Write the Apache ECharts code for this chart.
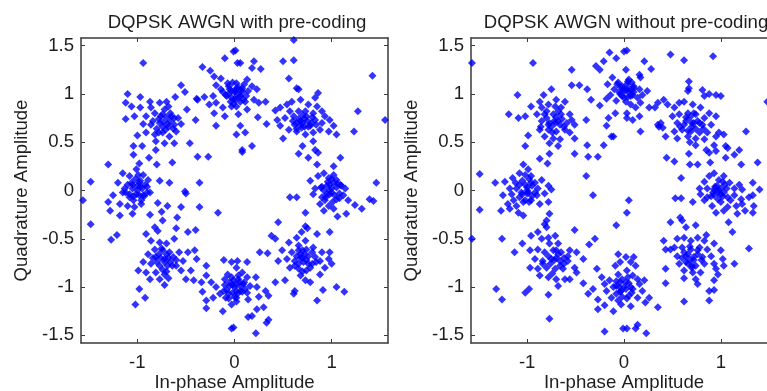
<!DOCTYPE html>
<html>
<head>
<meta charset="utf-8">
<script src="https://cdn.jsdelivr.net/npm/echarts@6/dist/echarts.min.js"></script>
<style>
html,body{margin:0;padding:0;background:#fff;}
#chart{width:767px;height:391px;}
</style>
</head>
<body>
<div id="chart"></div>
<script>
// ---- Data ----
var titles = ['DQPSK AWGN with pre-coding', 'DQPSK AWGN without pre-coding'];
var xName = 'In-phase Amplitude';
var yName = 'Quadrature Amplitude';
var xTicks = [-1, 0, 1];
var yTicks = [-1.5, -1, -0.5, 0, 0.5, 1, 1.5];
var axisMin = -1.58, axisMax = 1.58;

// With pre-coding: upper-left region
var withTL = [[-0.94,1.32],[-0.33,1.28],[-0.10,1.37],[-0.01,1.44],[-0.25,1.24],
[-1.10,1.00],[-0.97,0.97],[-1.12,0.91],[-1.06,0.87],[-1.12,0.74],[-1.03,0.77],[-0.97,0.86],[-0.87,0.92],[-0.86,0.86],[-0.77,0.91],[-0.70,0.92],[-0.68,0.87],[-0.61,0.97],[-0.55,1.09],[-0.51,1.02],[-0.49,0.84],
[-0.91,0.77],[-0.82,0.80],[-0.74,0.79],[-0.65,0.77],[-0.58,0.75],[-0.55,0.69],
[-0.94,0.69],[-0.86,0.68],[-0.77,0.70],[-0.69,0.69],[-0.62,0.68],
[-1.00,0.57],[-0.91,0.60],[-0.82,0.58],[-0.74,0.60],[-0.67,0.56],[-0.60,0.61],
[-0.81,0.51],[-0.72,0.49],[-0.62,0.49],[-0.81,0.42],[-1.04,0.46],[-0.95,0.46],
[-0.39,0.95],[-0.40,0.73],[-0.46,0.49],
[-1.04,0.37],[-0.98,0.28],[-0.88,0.34],[-0.80,0.27],[-0.64,0.29],[-0.38,0.35],[-0.27,0.35],[-1.30,0.27],[-1.48,0.09],
[-0.78,0.74],[-0.70,0.76],[-0.66,0.72],[-0.74,0.66],[-0.80,0.64],[-0.71,0.63],[-0.63,0.64],
[-0.21,1.18],[-0.14,1.16],[-0.07,1.11],[-0.19,1.09],[-0.14,1.05],[-0.09,0.99],[-0.03,1.03],[-0.22,0.98],[-0.31,0.97],[-0.38,0.94],[-0.26,0.89],[-0.19,0.91],[-0.21,0.80],[-0.12,0.86],[-0.10,0.77],[-0.19,0.67],[-0.03,0.87],
[-0.05,1.05],[-0.02,1.12],[-0.08,0.98],[-0.04,0.92],[-0.12,1.02],[-0.06,1.00],
[-1.15,0.18],[-1.08,0.15],[-1.01,0.22],[-0.94,0.16],[-0.98,0.08],[-0.89,0.11],[-1.05,0.06],[-1.20,0.08],[-1.13,0.02],[-0.77,0.10],[-0.67,0.08],[-0.51,-0.01],[-0.36,0.08],
[-1.00,0.05],[-0.95,0.02],[-1.05,0.02],[-0.92,0.06],[-1.02,0.12],[-1.10,0.06],[-0.97,0.10]];

// With pre-coding: upper-right region
var withTR = [[0.61,1.56],[0.01,1.45],[0.50,1.34],[0.61,1.35],[0.20,1.34],[0.18,1.27],[0.27,1.26],[0.03,1.32],[0.06,1.32],[0.56,1.16],[1.42,1.19],[0.64,1.06],[0.66,1.05],[0.86,1.01],[0.83,0.96],
[0.02,1.11],[0.08,1.06],[0.13,1.15],[0.01,1.03],[0.06,0.98],[0.11,0.92],[0.02,0.87],[0.14,1.03],[0.18,1.08],[0.23,1.05],[0.20,0.94],[0.25,0.91],[0.13,0.84],[0.04,0.79],[0.01,0.94],
[0.03,1.00],[0.08,1.02],[0.00,0.95],[0.06,0.92],[0.12,0.98],[0.10,1.10],[0.04,1.07],
[0.32,0.92],[0.24,0.76],[0.33,0.69],[0.06,0.67],[0.11,0.60],[0.02,0.58],[0.18,0.46],[0.08,0.42],[0.08,0.40],
[0.42,0.83],[0.47,0.86],[0.54,0.89],[0.59,0.92],[0.68,0.94],[0.76,0.89],[0.85,0.87],[0.90,0.82],[0.93,0.77],[0.98,0.73],[1.02,0.67],[1.05,0.58],[0.97,0.61],[0.88,0.63],[0.81,0.60],[0.73,0.58],[0.64,0.61],[0.56,0.63],[0.50,0.54],[0.47,0.67],[0.44,0.73],[0.52,0.75],[0.61,0.77],[0.68,0.72],[0.74,0.77],[0.83,0.73],[0.90,0.70],[0.78,0.67],[0.69,0.65],[0.62,0.68],[0.57,0.82],[0.66,0.82],[0.73,0.82],[0.81,0.80],
[0.70,0.70],[0.66,0.74],[0.75,0.72],[0.72,0.66],[0.64,0.70],[0.79,0.70],
[0.70,0.46],[0.66,0.38],[0.76,0.34],[0.83,0.42],[0.86,0.39],[0.81,0.51],[1.27,0.82],[1.23,0.61],[1.55,0.73],[1.09,0.34],[1.02,0.25],[0.85,0.27],[1.46,0.08],
[0.78,0.10],[0.86,0.15],[0.92,0.18],[0.97,0.13],[1.02,0.16],[1.05,0.11],[1.09,0.06],[0.98,0.06],[0.90,0.04],[0.83,0.02],[1.14,0.02],
[1.00,0.02],[0.95,0.05],[1.05,0.03],[0.92,0.00],[1.02,0.08],[1.10,0.05]];

// With pre-coding: lower-left region
var withBL = [[-1.25,-0.05],[-1.15,-0.02],[-1.08,-0.07],[-1.01,-0.04],[-0.94,-0.05],[-0.87,-0.02],[-1.30,-0.12],[-1.18,-0.14],[-1.10,-0.16],[-1.03,-0.17],[-0.96,-0.14],[-1.28,-0.21],[-1.18,-0.26],[-1.05,-0.24],[-1.56,-0.10],
[-0.98,-0.05],[-1.08,-0.04],[-0.90,-0.02],[-0.96,-0.10],[-1.04,-0.10],
[-0.79,-0.13],[-0.69,-0.16],[-0.55,-0.17],[-0.50,-0.03],[-0.36,-0.17],[-0.17,-0.23],
[-0.87,-0.25],[-0.75,-0.22],[-0.74,-0.31],[-1.48,-0.35],[-1.27,-0.51],[-1.21,-0.46],
[-0.59,-0.28],[-0.60,-0.39],[-0.48,-0.43],[-0.40,-0.41],[-0.62,-0.50],
[-0.91,-0.45],[-0.82,-0.38],[-0.79,-0.42],[-0.86,-0.52],[-0.77,-0.54],[-0.70,-0.55],[-0.82,-0.61],[-0.74,-0.62],[-0.67,-0.64],[-0.89,-0.66],[-0.81,-0.69],[-0.72,-0.71],[-0.63,-0.69],[-0.57,-0.64],[-0.48,-0.64],[-0.41,-0.62],[-0.39,-0.71],[-0.53,-0.73],[-0.94,-0.74],[-0.86,-0.76],[-0.77,-0.78],[-0.69,-0.78],[-0.60,-0.78],[-0.99,-0.83],[-0.91,-0.85],[-0.81,-0.85],[-0.72,-0.87],[-0.87,-0.92],[-0.77,-0.92],[-0.68,-0.91],[-0.72,-0.98],[-0.55,-0.83],[-0.45,-0.83],[-0.50,-0.92],
[-0.76,-0.70],[-0.70,-0.66],[-0.66,-0.74],[-0.80,-0.74],[-0.74,-0.82],
[-0.98,-1.02],[-0.92,-1.11],[-1.02,-1.18],[-0.42,-0.93],[-0.34,-0.95],[-0.29,-0.78],[-0.29,-0.88],[-0.11,-0.72],[-0.03,-0.74],[-0.33,-1.05],[-0.29,-1.14],[-0.29,-1.22],
[-0.24,-0.95],[-0.19,-1.00],[-0.15,-1.07],[-0.10,-0.92],[-0.07,-0.87],[-0.05,-0.99],[-0.09,-1.11],[-0.03,-1.18],[-0.22,-1.11],[-0.12,-1.25],[-0.03,-1.43],
[-0.05,-0.95],[-0.08,-1.03],[-0.03,-0.90],[-0.10,-0.98],[-0.02,-1.06],[-0.06,-1.12]];

// With pre-coding: lower-right region
var withBR = [[0.57,-0.07],[0.64,-0.07],[0.81,-0.04],[0.90,-0.07],[0.98,-0.04],[1.05,-0.09],[1.12,-0.05],[1.17,-0.10],[0.88,-0.14],[0.97,-0.16],[0.92,-0.21],[1.02,-0.19],[1.24,-0.15],[1.31,-0.19],[1.39,-0.09],[1.43,-0.11],[0.73,-0.23],[1.06,-0.27],[1.15,-0.24],
[1.00,-0.02],[0.95,-0.04],[1.08,-0.03],[0.93,-0.10],[1.01,-0.12],
[0.45,-0.33],[0.73,-0.37],[0.75,-0.39],[0.85,-0.45],[0.98,-0.43],[0.38,-0.47],[0.42,-0.50],[0.26,-0.64],[0.34,-0.65],[0.49,-0.62],[0.03,-0.73],[0.13,-0.74],
[0.56,-0.54],[0.64,-0.49],[0.69,-0.43],[0.73,-0.52],[0.66,-0.57],[0.74,-0.61],[0.81,-0.59],[0.59,-0.64],[0.68,-0.66],[0.76,-0.68],[0.83,-0.69],[0.54,-0.71],[0.62,-0.73],[0.71,-0.74],[0.80,-0.76],[0.57,-0.80],[0.66,-0.81],[0.74,-0.83],[0.68,-0.88],[0.73,-0.93],[0.78,-0.95],[0.90,-0.64],[0.88,-0.73],[0.97,-0.71],[1.00,-0.76],[0.93,-0.80],[0.88,-0.87],[0.98,-0.64],[0.45,-0.73],
[0.70,-0.70],[0.66,-0.76],[0.74,-0.72],[0.64,-0.68],[0.70,-0.62],[0.78,-0.80],
[0.52,-0.93],[0.42,-0.95],[0.62,-1.04],[0.61,-1.07],[0.91,-1.03],[1.05,-1.00],[1.13,-1.05],[0.85,-1.14],
[0.02,-0.80],[0.08,-0.85],[0.13,-0.90],[0.04,-0.92],[0.01,-0.97],[0.09,-0.97],[0.16,-0.99],[0.06,-1.04],[0.13,-1.06],[0.02,-1.11],[0.14,-1.13],[0.22,-0.90],[0.23,-1.00],[0.25,-1.10],[0.32,-1.04],[0.35,-1.09],[0.30,-1.21],[0.23,-1.23],[0.14,-1.31],[0.18,-1.30],[0.35,-1.34],[0.33,-1.37],[0.22,-1.48],[-0.01,-1.42],
[0.00,-1.00],[0.05,-0.95],[0.08,-1.05],[0.00,-1.10],[0.04,-0.88],[0.10,-0.95],[0.02,-1.04]];

// With pre-coding: dense cluster cores
var withCore = [[0.00,1.02],[-0.03,0.96],[0.05,0.97],[0.02,1.06],[-0.06,1.08],[0.07,1.04],[-0.01,0.90],[0.09,0.94],
[0.72,0.74],[0.68,0.68],[0.76,0.66],[0.60,0.72],[0.84,0.68],[0.70,0.78],[0.64,0.64],[0.80,0.76],
[0.98,0.00],[1.03,-0.05],[0.96,0.09],[1.06,0.07],[0.94,-0.07],[1.08,-0.08],[1.00,0.12],[0.89,0.03],
[0.68,-0.70],[0.72,-0.66],[0.76,-0.76],[0.62,-0.78],[0.70,-0.84],[0.80,-0.64],[0.66,-0.62],[0.84,-0.74],
[-0.02,-0.98],[0.03,-1.07],[-0.06,-1.07],[0.06,-0.99],[-0.01,-0.93],[0.11,-1.02],[-0.11,-1.04],[0.02,-1.15],
[-0.72,-0.74],[-0.68,-0.70],[-0.78,-0.66],[-0.64,-0.78],[-0.84,-0.70],[-0.75,-0.60],[-0.70,-0.84],[-0.60,-0.72],
[-1.00,0.00],[-0.97,0.04],[-1.04,-0.06],[-0.93,-0.06],[-1.06,0.08],[-0.99,0.16],[-1.12,-0.02],[-0.90,0.04],
[-0.73,0.71],[-0.76,0.77],[-0.68,0.66],[-0.84,0.72],[-0.62,0.75],[-0.72,0.84],[-0.78,0.60],[-0.66,0.80]];

// Without pre-coding: upper-left region
var withoutTL = [[-1.57,1.32],[-0.94,1.32],[-0.54,1.25],[-0.15,1.43],[-0.08,1.37],[0.00,1.44],[-0.21,1.34],[-0.29,1.29],[-0.25,1.25],[-0.54,1.09],[-0.46,1.09],[-0.38,1.05],[-1.10,0.99],[-0.75,1.05],[-0.83,0.99],[-0.87,0.92],[-0.70,0.94],[-0.61,0.92],[-0.96,0.87],[-1.19,0.79],[-1.09,0.75],[-1.02,0.77],[-0.34,0.94],[-0.25,0.88],[-0.18,0.95],[-0.09,0.80],[-0.16,0.75],[-0.18,0.67],[-0.39,0.73],
[-0.85,0.86],[-0.78,0.89],[-0.71,0.87],[-0.65,0.86],[-0.90,0.79],[-0.82,0.79],[-0.73,0.79],[-0.65,0.79],[-0.56,0.79],[-0.54,0.73],[-0.85,0.72],[-0.77,0.70],[-0.68,0.72],[-0.59,0.70],[-0.51,0.68],[-0.87,0.63],[-0.78,0.63],[-0.70,0.61],[-0.61,0.63],[-0.56,0.60],[-0.99,0.57],[-0.82,0.56],[-0.73,0.54],[-0.66,0.53],[-0.77,0.49],[-0.68,0.46],[-0.51,0.54],[-1.02,0.46],
[-0.72,0.72],[-0.75,0.66],[-0.66,0.68],[-0.80,0.75],[-0.70,0.76],
[-0.77,0.38],[-0.87,0.33],[-0.79,0.28],[-0.51,0.38],[-0.38,0.47],[-0.37,0.35],[-0.27,0.35],[-0.21,0.47],[-0.13,0.56],[-0.11,0.56],[-1.49,0.17],[-0.39,0.15],[-1.33,0.08],
[-1.23,0.09],[-1.15,0.13],[-1.08,0.18],[-1.04,0.27],[-0.99,0.22],[-0.96,0.15],[-0.92,0.08],[-1.02,0.06],[-1.11,0.02],[-0.89,0.02],[-1.18,0.02],[-0.85,0.11],[-0.78,0.05],[-0.75,0.01],
[-1.00,0.03],[-0.95,0.05],[-1.05,0.10],[-0.98,0.12],[-1.08,0.06],
[-0.12,1.17],[-0.06,1.12],[-0.10,1.05],[-0.04,1.00],[-0.14,0.99],[-0.08,0.93],[-0.03,1.07],[-0.17,1.10],
[0.00,1.05],[0.03,1.10],[-0.02,0.98],[0.05,1.02]];

// Without pre-coding: upper-right region
var withoutTR = [[0.03,1.45],[0.48,1.41],[0.62,1.35],[0.92,1.39],[0.21,1.34],[0.28,1.26],[0.16,1.20],[0.17,1.17],
[0.02,1.25],[0.05,1.15],[0.10,1.08],[0.03,1.05],[0.09,0.99],[0.14,0.96],[0.02,0.92],[0.07,0.89],[0.12,0.86],[0.03,0.80],[0.16,1.05],[0.19,0.99],[0.24,1.03],[0.17,0.91],[0.26,0.86],[0.16,0.77],[0.09,0.73],[0.03,0.75],
[0.06,1.05],[0.10,1.02],[0.04,0.97],[0.08,1.12],
[0.17,0.61],[0.67,1.13],[0.67,1.06],[0.66,1.03],[0.81,1.04],[0.83,0.98],[0.88,1.00],[0.95,0.99],[1.00,0.98],[0.41,0.94],[0.45,0.89],[0.35,0.91],[0.32,0.86],[0.35,0.68],[0.40,0.65],[0.43,0.56],[0.44,0.34],[0.52,0.30],[0.59,0.13],[0.68,0.50],[0.67,0.38],[0.76,0.27],[0.68,0.27],
[0.52,0.86],[0.57,0.91],[0.62,0.92],[0.71,0.89],[0.79,0.86],[0.88,0.80],[0.95,0.77],[0.50,0.77],[0.57,0.79],[0.66,0.80],[0.74,0.79],[0.83,0.75],[0.55,0.70],[0.64,0.72],[0.72,0.70],[0.81,0.68],[0.90,0.68],[0.52,0.61],[0.60,0.63],[0.69,0.61],[0.78,0.60],[0.86,0.60],[0.55,0.54],[0.66,0.56],[0.74,0.54],[0.83,0.53],[0.95,0.56],[0.98,0.60],[1.03,0.58],[1.05,0.46],[0.85,0.42],[0.88,0.39],[0.74,0.47],[0.36,0.66],[0.38,0.70],[1.07,0.44],
[0.70,0.66],[0.62,0.68],[0.76,0.72],[0.68,0.76],
[0.93,0.47],[0.95,0.41],[1.14,0.37],[1.19,0.42],[0.89,0.29],[1.05,0.34],[1.26,0.61],[1.21,0.27],[1.38,0.29],[1.48,0.92],
[0.83,0.09],[0.88,0.15],[0.93,0.18],[0.98,0.11],[1.03,0.15],[1.09,0.08],[1.14,0.02],[0.86,0.02],[0.93,0.01],[0.78,0.02],[1.00,0.02],[1.33,0.08],[1.40,0.01],[1.19,0.06],[1.22,0.01],
[0.96,0.05],[1.04,0.06]];

// Without pre-coding: lower-left region
var withoutBL = [[-1.25,-0.05],[-1.16,-0.04],[-1.08,-0.07],[-0.99,-0.02],[-0.90,-0.05],[-0.82,-0.03],[-1.20,-0.14],[-1.11,-0.16],[-1.04,-0.12],[-0.96,-0.10],[-0.87,-0.14],[-1.27,-0.21],[-1.18,-0.19],[-1.09,-0.23],[-1.04,-0.26],[-0.78,-0.12],
[-1.00,-0.03],[-0.95,-0.06],[-1.05,-0.04],[-1.02,-0.10],
[-1.49,-0.20],[-0.32,-0.05],[-0.77,-0.24],[-1.57,-0.50],[-1.26,-0.50],[-1.13,-0.64],[-1.05,-0.55],[-0.80,-0.31],[-0.82,-0.35],[-0.80,-0.38],[-0.51,-0.41],[-0.30,-0.50],[-0.36,-0.56],
[-0.96,-0.47],[-0.89,-0.43],[-0.85,-0.50],[-0.78,-0.49],[-0.71,-0.47],[-0.77,-0.55],[-0.68,-0.55],[-0.97,-0.62],[-0.89,-0.61],[-0.82,-0.64],[-0.73,-0.62],[-0.65,-0.64],[-0.56,-0.62],[-0.49,-0.64],[-0.92,-0.71],[-0.84,-0.73],[-0.75,-0.71],[-0.66,-0.73],[-0.58,-0.73],[-0.42,-0.71],[-0.97,-0.80],[-0.89,-0.81],[-0.80,-0.80],[-0.71,-0.81],[-0.63,-0.81],[-0.51,-0.80],[-0.87,-0.88],[-0.78,-0.90],[-0.70,-0.92],[-0.61,-0.92],[-0.56,-0.92],[-0.68,-0.99],[-0.49,-0.85],
[-0.70,-0.70],[-0.76,-0.76],[-0.68,-0.66],[-0.62,-0.70],
[-1.32,-1.02],[-1.26,-1.13],[-1.02,-1.06],[-0.98,-1.02],[-0.78,-1.08],[-0.77,-1.33],[-0.42,-0.96],[-0.37,-1.07],[-0.32,-1.02],[-0.28,-0.81],[-0.08,-0.36],[-0.06,-0.66],
[-0.23,-0.90],[-0.20,-0.97],[-0.15,-0.93],[-0.11,-1.00],[-0.06,-0.87],[-0.04,-0.95],[-0.18,-1.04],[-0.13,-1.11],[-0.08,-1.07],[-0.03,-1.04],[-0.27,-1.23],[-0.20,-1.19],[-0.11,-1.25],[-0.03,-1.18],[-0.09,-0.78],[-0.04,-0.74],[-0.27,-1.13],[-0.20,-1.46],[-0.01,-1.43],
[-0.05,-1.00],[-0.08,-0.94],[-0.02,-1.10]];

// Without pre-coding: lower-right region
var withoutBR = [[0.53,-0.08],[0.59,-0.08],[0.05,-0.10],[0.03,-0.23],[0.71,-0.12],
[0.79,-0.04],[0.86,-0.07],[0.93,-0.05],[1.00,-0.04],[1.07,-0.07],[1.14,-0.05],[1.21,-0.09],[0.83,-0.10],[0.91,-0.16],[1.00,-0.12],[1.07,-0.17],[1.16,-0.16],[1.22,-0.14],[1.29,-0.07],[1.34,-0.16],[1.33,-0.05],[0.95,-0.23],[1.03,-0.21],[1.17,-0.24],[1.25,-0.21],[1.33,-0.23],
[0.97,-0.02],[1.03,-0.02],[0.92,-0.02],
[1.08,-0.33],[1.12,-0.43],[1.29,-0.60],[0.58,-0.28],[0.60,-0.31],[0.48,-0.33],[0.64,-0.38],[0.74,-0.36],[0.85,-0.46],[0.41,-0.52],[0.43,-0.61],[0.48,-0.61],[0.43,-0.81],[0.43,-0.96],[0.62,-1.15],[0.88,-1.04],[0.93,-1.03],[0.88,-1.14],[0.35,-1.21],[0.23,-1.48],[0.03,-1.43],[0.12,-1.43],[0.14,-1.39],[0.07,-1.20],
[0.02,-0.69],[0.07,-0.74],[0.12,-0.78],[0.03,-0.83],[0.09,-0.88],[0.14,-0.92],[0.02,-0.95],[0.07,-1.00],[0.16,-0.97],[0.21,-0.93],[0.19,-1.04],[0.26,-1.11],[0.14,-1.11],[0.05,-1.09],[0.22,-1.16],[0.10,-0.69],
[0.02,-1.02],[0.08,-1.06],[0.04,-0.90],
[0.55,-0.50],[0.62,-0.49],[0.69,-0.52],[0.76,-0.49],[0.83,-0.52],[0.52,-0.59],[0.60,-0.59],[0.69,-0.61],[0.78,-0.59],[0.86,-0.61],[0.93,-0.55],[0.55,-0.68],[0.64,-0.68],[0.72,-0.69],[0.81,-0.69],[0.90,-0.68],[1.00,-0.62],[0.57,-0.76],[0.66,-0.76],[0.74,-0.78],[0.83,-0.76],[0.93,-0.76],[1.02,-0.71],[0.62,-0.83],[0.71,-0.85],[0.79,-0.85],[0.95,-0.81],[1.03,-0.78],[1.14,-0.76],[0.62,-0.91],[0.74,-0.92],[0.76,-0.97],[0.93,-0.93],[0.97,-0.87],
[0.68,-0.72],[0.62,-0.64],[0.76,-0.66],[0.70,-0.80]];

// Without pre-coding: dense cluster cores
var withoutCore = [[0.01,1.03],[-0.02,1.08],[0.04,1.13],[-0.05,1.02],[0.07,0.98],[0.00,0.96],[0.10,1.06],[-0.07,1.10],
[0.70,0.70],[0.74,0.64],[0.66,0.62],[0.78,0.70],[0.64,0.76],[0.72,0.80],[0.58,0.66],[0.82,0.64],
[0.98,0.00],[1.02,-0.06],[0.94,0.04],[1.06,0.02],[0.90,-0.06],[1.10,-0.10],[0.97,-0.09],[1.02,0.09],
[0.66,-0.66],[0.72,-0.72],[0.64,-0.74],[0.76,-0.62],[0.60,-0.70],[0.80,-0.72],[0.68,-0.58],[0.70,-0.78],
[0.00,-1.00],[-0.04,-1.05],[0.05,-0.96],[-0.02,-0.92],[0.09,-1.02],[-0.08,-0.99],[0.03,-1.12],[-0.06,-1.14],
[-0.72,-0.72],[-0.66,-0.78],[-0.78,-0.68],[-0.70,-0.62],[-0.62,-0.76],[-0.84,-0.76],[-0.74,-0.86],[-0.58,-0.68],
[-1.00,0.00],[-0.96,0.08],[-1.06,-0.02],[-0.92,-0.02],[-1.02,0.16],[-1.12,0.08],[-0.98,-0.12],[-1.14,-0.10],
[-0.71,0.70],[-0.64,0.74],[-0.78,0.68],[-0.74,0.60],[-0.62,0.66],[-0.80,0.82],[-0.68,0.82],[-0.86,0.66]];

// ---- Chart ----
var FONT = 'Liberation Sans, Arial, sans-serif';
var TXT = '#1e1e1e';
var LINE = '#3a3a3a';
var FS = 18.6;
var chart = echarts.init(document.getElementById('chart'), null, {renderer: 'canvas'});

var grids = [
  {left: 81, top: 38, width: 307, height: 305, outerBoundsMode: 'none', containLabel: false},
  {left: 471, top: 38, width: 306, height: 305, outerBoundsMode: 'none', containLabel: false}
];

function xAx(g, pos) {
  var main = pos === 'bottom';
  return {
    type: 'value', gridIndex: g, position: pos, min: axisMin, max: axisMax,
    axisLine: {show: true, onZero: false, lineStyle: {color: LINE, width: 1.5}},
    axisTick: {show: true, inside: true, length: 4, customValues: xTicks, lineStyle: {color: LINE, width: 1}},
    axisLabel: {show: main, customValues: xTicks, fontSize: FS, fontFamily: FONT, color: TXT, margin: 10},
    splitLine: {show: false},
    name: main ? xName : '', nameLocation: 'middle', nameGap: 30, nameMoveOverlap: false,
    nameTextStyle: {fontSize: FS, fontFamily: FONT, color: TXT}
  };
}
function yAx(g, pos) {
  var main = pos === 'left';
  return {
    type: 'value', gridIndex: g, position: pos, min: axisMin, max: axisMax,
    axisLine: {show: true, onZero: false, lineStyle: {color: LINE, width: 1.5}},
    axisTick: {show: true, inside: true, length: 4, customValues: yTicks, lineStyle: {color: LINE, width: 1}},
    axisLabel: {show: main, customValues: yTicks, fontSize: FS, fontFamily: FONT, color: TXT, margin: 7},
    splitLine: {show: false},
    name: main ? yName : '', nameLocation: 'middle', nameGap: 50, nameMoveOverlap: false,
    nameTextStyle: {fontSize: FS, fontFamily: FONT, color: TXT}
  };
}

var option = {
  animation: false,
  backgroundColor: '#ffffff',
  title: [
    {text: titles[0], left: 232, top: 8, textAlign: 'center',
     textStyle: {fontSize: FS, fontWeight: 'normal', fontFamily: FONT, color: TXT}},
    {text: titles[1], left: 621, top: 8, textAlign: 'center',
     textStyle: {fontSize: FS, fontWeight: 'normal', fontFamily: FONT, color: TXT}}
  ],
  grid: grids,
  xAxis: [xAx(0, 'bottom'), xAx(0, 'top'), xAx(1, 'bottom'), xAx(1, 'top')],
  yAxis: [yAx(0, 'left'), yAx(0, 'right'), yAx(1, 'left'), yAx(1, 'right')],
  series: [
    {type: 'scatter', xAxisIndex: 0, yAxisIndex: 0, symbol: 'diamond', symbolSize: 8,
     itemStyle: {color: '#0000ff'}, data: [].concat(withTL, withTR, withBL, withBR, withCore)},
    {type: 'scatter', xAxisIndex: 2, yAxisIndex: 2, symbol: 'diamond', symbolSize: 8,
     itemStyle: {color: '#0000ff'}, data: [].concat(withoutTL, withoutTR, withoutBL, withoutBR, withoutCore)}
  ]
};
chart.setOption(option);
</script>
</body>
</html>
